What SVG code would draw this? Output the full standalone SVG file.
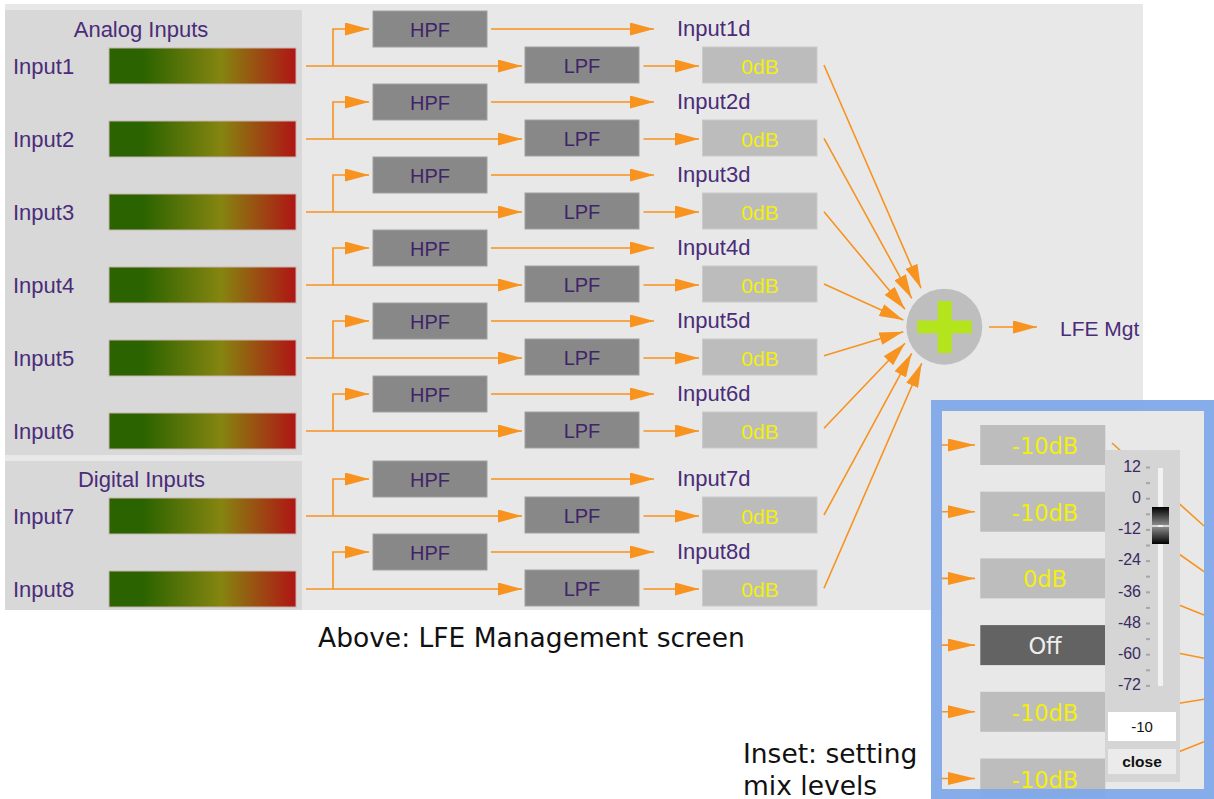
<svg xmlns="http://www.w3.org/2000/svg" width="1214" height="799" viewBox="0 0 1214 799">
<defs>
<style>
.lbl{font-family:"Liberation Sans",Arial,sans-serif;font-size:22px;fill:#4a2c78}
.hd{font-family:"Liberation Sans",Arial,sans-serif;font-size:22px;fill:#4a2c78;text-anchor:middle}
.blk{fill:#888888;stroke:#a0a0a0;stroke-width:1}
.btxt{font-family:"Liberation Sans",Arial,sans-serif;font-size:20px;fill:#3f2468;text-anchor:middle}
.gain{fill:#bcbcbc;stroke:#cacaca;stroke-width:1}
.gtxt{font-family:"Liberation Sans",Arial,sans-serif;font-size:21px;fill:#f2ef10;text-anchor:middle}
.wire{fill:none;stroke:#f7931e;stroke-width:1.6}
.meter{fill:url(#mg);stroke:#c9b3ad;stroke-width:1}
.cap{font-family:"DejaVu Sans",sans-serif;font-size:26.5px;fill:#111111}
.ibox{fill:#bdbdbd}
.itxt{font-family:"DejaVu Sans",sans-serif;font-size:22.5px;fill:#f2ef10;text-anchor:middle}
.scale{font-family:"Liberation Sans",Arial,sans-serif;font-size:16px;fill:#3a2a5e;text-anchor:end}
.tick{fill:#a6a6a6}
</style>
<linearGradient id="mg" x1="0" x2="1" y1="0" y2="0">
<stop offset="0" stop-color="#2b6300"/>
<stop offset="0.18" stop-color="#2b6300"/>
<stop offset="0.6" stop-color="#858510"/>
<stop offset="1" stop-color="#b01414"/>
</linearGradient>
<linearGradient id="k1" x1="0" x2="0" y1="0" y2="1">
<stop offset="0" stop-color="#000"/><stop offset="1" stop-color="#8a8a8a"/>
</linearGradient>
<linearGradient id="k2" x1="0" x2="0" y1="0" y2="1">
<stop offset="0" stop-color="#8a8a8a"/><stop offset="1" stop-color="#000"/>
</linearGradient>
<marker id="ah" markerUnits="userSpaceOnUse" markerWidth="24" markerHeight="13" refX="24" refY="6.5" orient="auto"><path d="M0,0 L24,6.5 L0,13 z" fill="#f7931e"/></marker>
<marker id="ah2" markerUnits="userSpaceOnUse" markerWidth="27" markerHeight="13" refX="27" refY="6.5" orient="auto"><path d="M0,0 L27,6.5 L0,13 z" fill="#f7931e"/></marker>
</defs>
<rect width="1214" height="799" fill="#ffffff"/>
<g id="panel">
<rect x="5" y="4" width="1138" height="606" fill="#e8e8e8"/>
<rect x="5" y="10" width="297" height="445" fill="#d8d8d8"/>
<rect x="5" y="461" width="297" height="149" fill="#d8d8d8"/>
<text class="hd" x="141" y="37">Analog Inputs</text>
<text class="hd" x="141.5" y="487">Digital Inputs</text>
</g>
<g id="connectors">
<path class="wire" marker-end="url(#ah)" d="M306,66H522"/><path class="wire" marker-end="url(#ah)" d="M333,66V29H369"/><path class="wire" marker-end="url(#ah)" d="M491,29H654"/><path class="wire" marker-end="url(#ah)" d="M643.5,66H699"/>
<path class="wire" marker-end="url(#ah)" d="M306,139H522"/><path class="wire" marker-end="url(#ah)" d="M333,139V102H369"/><path class="wire" marker-end="url(#ah)" d="M491,102H654"/><path class="wire" marker-end="url(#ah)" d="M643.5,139H699"/>
<path class="wire" marker-end="url(#ah)" d="M306,212H522"/><path class="wire" marker-end="url(#ah)" d="M333,212V175H369"/><path class="wire" marker-end="url(#ah)" d="M491,175H654"/><path class="wire" marker-end="url(#ah)" d="M643.5,212H699"/>
<path class="wire" marker-end="url(#ah)" d="M306,285H522"/><path class="wire" marker-end="url(#ah)" d="M333,285V248H369"/><path class="wire" marker-end="url(#ah)" d="M491,248H654"/><path class="wire" marker-end="url(#ah)" d="M643.5,285H699"/>
<path class="wire" marker-end="url(#ah)" d="M306,358H522"/><path class="wire" marker-end="url(#ah)" d="M333,358V321H369"/><path class="wire" marker-end="url(#ah)" d="M491,321H654"/><path class="wire" marker-end="url(#ah)" d="M643.5,358H699"/>
<path class="wire" marker-end="url(#ah)" d="M306,431H522"/><path class="wire" marker-end="url(#ah)" d="M333,431V394H369"/><path class="wire" marker-end="url(#ah)" d="M491,394H654"/><path class="wire" marker-end="url(#ah)" d="M643.5,431H699"/>
<path class="wire" marker-end="url(#ah)" d="M306,516H522"/><path class="wire" marker-end="url(#ah)" d="M333,516V479H369"/><path class="wire" marker-end="url(#ah)" d="M491,479H654"/><path class="wire" marker-end="url(#ah)" d="M643.5,516H699"/>
<path class="wire" marker-end="url(#ah)" d="M306,589H522"/><path class="wire" marker-end="url(#ah)" d="M333,589V552H369"/><path class="wire" marker-end="url(#ah)" d="M491,552H654"/><path class="wire" marker-end="url(#ah)" d="M643.5,589H699"/>
<path class="wire" marker-end="url(#ah)" d="M824,65L921,288.3"/>
<path class="wire" marker-end="url(#ah)" d="M824,138.3L911.7,298.3"/>
<path class="wire" marker-end="url(#ah)" d="M824,211.7L905,309.3"/>
<path class="wire" marker-end="url(#ah)" d="M824,284L903.3,320"/>
<path class="wire" marker-end="url(#ah)" d="M824,355.7L903.3,331.7"/>
<path class="wire" marker-end="url(#ah)" d="M824,428.3L905,343.3"/>
<path class="wire" marker-end="url(#ah)" d="M824,515L911.7,353.3"/>
<path class="wire" marker-end="url(#ah)" d="M824,588.3L921.7,363.3"/>
<path class="wire" marker-end="url(#ah)" d="M989,327H1037"/>
</g>
<g id="row1"><text class="lbl" x="13" y="74">Input1</text><rect class="meter" x="109" y="48" width="187" height="36"/><rect class="blk" x="373" y="11" width="114" height="36"/><text class="btxt" x="430" y="36.5">HPF</text><rect class="blk" x="525" y="47" width="114" height="36"/><text class="btxt" x="582" y="73">LPF</text><text class="lbl" x="677" y="36">Input1d</text><rect class="gain" x="702.5" y="47" width="114.5" height="36"/><text class="gtxt" x="760" y="73.5">0dB</text></g>
<g id="row2"><text class="lbl" x="13" y="147">Input2</text><rect class="meter" x="109" y="121" width="187" height="36"/><rect class="blk" x="373" y="84" width="114" height="36"/><text class="btxt" x="430" y="109.5">HPF</text><rect class="blk" x="525" y="120" width="114" height="36"/><text class="btxt" x="582" y="146">LPF</text><text class="lbl" x="677" y="109">Input2d</text><rect class="gain" x="702.5" y="120" width="114.5" height="36"/><text class="gtxt" x="760" y="146.5">0dB</text></g>
<g id="row3"><text class="lbl" x="13" y="220">Input3</text><rect class="meter" x="109" y="194" width="187" height="36"/><rect class="blk" x="373" y="157" width="114" height="36"/><text class="btxt" x="430" y="182.5">HPF</text><rect class="blk" x="525" y="193" width="114" height="36"/><text class="btxt" x="582" y="219">LPF</text><text class="lbl" x="677" y="182">Input3d</text><rect class="gain" x="702.5" y="193" width="114.5" height="36"/><text class="gtxt" x="760" y="219.5">0dB</text></g>
<g id="row4"><text class="lbl" x="13" y="293">Input4</text><rect class="meter" x="109" y="267" width="187" height="36"/><rect class="blk" x="373" y="230" width="114" height="36"/><text class="btxt" x="430" y="255.5">HPF</text><rect class="blk" x="525" y="266" width="114" height="36"/><text class="btxt" x="582" y="292">LPF</text><text class="lbl" x="677" y="255">Input4d</text><rect class="gain" x="702.5" y="266" width="114.5" height="36"/><text class="gtxt" x="760" y="292.5">0dB</text></g>
<g id="row5"><text class="lbl" x="13" y="366">Input5</text><rect class="meter" x="109" y="340" width="187" height="36"/><rect class="blk" x="373" y="303" width="114" height="36"/><text class="btxt" x="430" y="328.5">HPF</text><rect class="blk" x="525" y="339" width="114" height="36"/><text class="btxt" x="582" y="365">LPF</text><text class="lbl" x="677" y="328">Input5d</text><rect class="gain" x="702.5" y="339" width="114.5" height="36"/><text class="gtxt" x="760" y="365.5">0dB</text></g>
<g id="row6"><text class="lbl" x="13" y="439">Input6</text><rect class="meter" x="109" y="413" width="187" height="36"/><rect class="blk" x="373" y="376" width="114" height="36"/><text class="btxt" x="430" y="401.5">HPF</text><rect class="blk" x="525" y="412" width="114" height="36"/><text class="btxt" x="582" y="438">LPF</text><text class="lbl" x="677" y="401">Input6d</text><rect class="gain" x="702.5" y="412" width="114.5" height="36"/><text class="gtxt" x="760" y="438.5">0dB</text></g>
<g id="row7"><text class="lbl" x="13" y="524">Input7</text><rect class="meter" x="109" y="498" width="187" height="36"/><rect class="blk" x="373" y="461" width="114" height="36"/><text class="btxt" x="430" y="486.5">HPF</text><rect class="blk" x="525" y="497" width="114" height="36"/><text class="btxt" x="582" y="523">LPF</text><text class="lbl" x="677" y="486">Input7d</text><rect class="gain" x="702.5" y="497" width="114.5" height="36"/><text class="gtxt" x="760" y="523.5">0dB</text></g>
<g id="row8"><text class="lbl" x="13" y="597">Input8</text><rect class="meter" x="109" y="571" width="187" height="36"/><rect class="blk" x="373" y="534" width="114" height="36"/><text class="btxt" x="430" y="559.5">HPF</text><rect class="blk" x="525" y="570" width="114" height="36"/><text class="btxt" x="582" y="596">LPF</text><text class="lbl" x="677" y="559">Input8d</text><rect class="gain" x="702.5" y="570" width="114.5" height="36"/><text class="gtxt" x="760" y="596.5">0dB</text></g>
<g id="sum">
<circle cx="944.3" cy="326.7" r="38" fill="#bebebe"/>
<rect x="937.7" y="301" width="14" height="52" fill="#b4e41c"/>
<rect x="917.3" y="320.5" width="54.4" height="12.8" fill="#b4e41c"/>
</g>
<g id="output"><text class="lbl" x="1060" y="336" style="font-size:21px">LFE Mgt</text></g>
<g id="caption"><text class="cap" x="318" y="647">Above: LFE Management screen</text></g>
<g id="inset-caption"><text class="cap" x="743" y="763">Inset: setting</text><text class="cap" x="743" y="795">mix levels</text></g>
<g id="inset">
<rect x="942" y="411" width="262" height="378" fill="#e8e8e8"/>
<g id="inset-connectors">
<path class="wire" marker-end="url(#ah2)" d="M942,445H975"/>
<path class="wire" marker-end="url(#ah2)" d="M942,511.7H975"/>
<path class="wire" marker-end="url(#ah2)" d="M942,578.4H975"/>
<path class="wire" marker-end="url(#ah2)" d="M942,645.1H975"/>
<path class="wire" marker-end="url(#ah2)" d="M942,711.8H975"/>
<path class="wire" marker-end="url(#ah2)" d="M942,778.5H975"/>
<path class="wire" d="M1112,443L1204,526"/>
<path class="wire" d="M1179,554L1204,571.7"/>
<path class="wire" d="M1179,605L1204,615"/>
<path class="wire" d="M1179,653.3L1204,658.3"/>
<path class="wire" d="M1179,703.3L1204,699.3"/>
<path class="wire" d="M1179,751.7L1204,741.7"/>
</g>
<g id="gain1"><rect class="ibox" x="980.3" y="425" width="125" height="40"/><text class="itxt" x="1045" y="454">-10dB</text></g>
<g id="gain2"><rect class="ibox" x="980.3" y="491.7" width="125" height="40"/><text class="itxt" x="1045" y="520.7">-10dB</text></g>
<g id="gain3"><rect class="ibox" x="980.3" y="558.4" width="125" height="40"/><text class="itxt" x="1045" y="587.4">0dB</text></g>
<g id="gain4"><rect x="980.3" y="625.1" width="125" height="40" fill="#636363"/><text class="itxt" x="1045" y="654.1" style="fill:#eeeeee">Off</text></g>
<g id="gain5"><rect class="ibox" x="980.3" y="691.8" width="125" height="40"/><text class="itxt" x="1045" y="720.8">-10dB</text></g>
<g id="gain6"><rect class="ibox" x="980.3" y="758.5" width="125" height="40"/><text class="itxt" x="1045" y="787.5">-10dB</text></g>
<g id="slider">
<rect x="1105" y="450" width="75" height="332" fill="#d5d5d5"/>
<text class="scale" x="1141" y="471.7">12</text>
<text class="scale" x="1141" y="502.9">0</text>
<text class="scale" x="1141" y="534.1">-12</text>
<text class="scale" x="1141" y="565.3">-24</text>
<text class="scale" x="1141" y="596.5">-36</text>
<text class="scale" x="1141" y="627.7">-48</text>
<text class="scale" x="1141" y="658.9">-60</text>
<text class="scale" x="1141" y="690.1">-72</text>
<rect class="tick" x="1146" y="466.5" width="4" height="2"/><rect class="tick" x="1146" y="482.1" width="4" height="2"/><rect class="tick" x="1146" y="497.7" width="4" height="2"/><rect class="tick" x="1146" y="513.3" width="4" height="2"/><rect class="tick" x="1146" y="528.9" width="4" height="2"/><rect class="tick" x="1146" y="544.5" width="4" height="2"/><rect class="tick" x="1146" y="560.1" width="4" height="2"/><rect class="tick" x="1146" y="575.7" width="4" height="2"/><rect class="tick" x="1146" y="591.3" width="4" height="2"/><rect class="tick" x="1146" y="606.9" width="4" height="2"/><rect class="tick" x="1146" y="622.5" width="4" height="2"/><rect class="tick" x="1146" y="638.1" width="4" height="2"/><rect class="tick" x="1146" y="653.7" width="4" height="2"/><rect class="tick" x="1146" y="669.3" width="4" height="2"/><rect class="tick" x="1146" y="684.9" width="4" height="2"/>
<rect x="1158" y="468" width="5" height="218" fill="#f2f2f2"/>
<rect x="1152" y="507" width="17" height="18" fill="url(#k1)"/>
<rect x="1152" y="527" width="17" height="17" fill="url(#k2)"/>
<rect x="1108" y="712" width="68" height="29" fill="#ffffff"/>
<text x="1142" y="732" text-anchor="middle" style="font-family:'Liberation Sans',Arial,sans-serif;font-size:15px;fill:#111">-10</text>
<rect x="1108" y="749" width="68" height="25" fill="#ebebeb"/>
<text x="1142" y="767" text-anchor="middle" style="font-family:'Liberation Sans',Arial,sans-serif;font-size:15.5px;font-weight:bold;fill:#111">close</text>
</g>
<rect x="936.5" y="405.5" width="273" height="389" fill="none" stroke="#80a8e8" stroke-width="11" stroke-opacity="0.95"/>
</g>
</svg>
